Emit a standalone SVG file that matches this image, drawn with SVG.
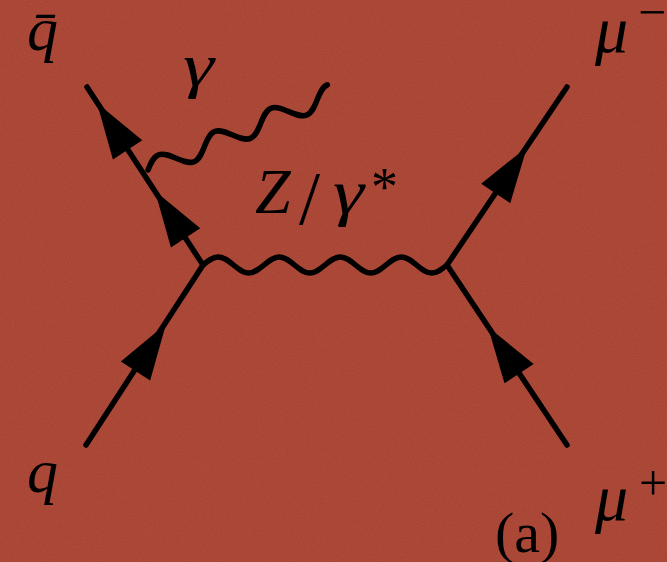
<svg xmlns="http://www.w3.org/2000/svg" xmlns:xlink="http://www.w3.org/1999/xlink" width="667" height="562" viewBox="0 0 667 562">
<style>
.fer{stroke:#000;stroke-width:5.5;stroke-linecap:round;fill:none}
.bos{stroke:#000;stroke-width:5.5;stroke-linecap:round;stroke-linejoin:round;fill:none}
.m{font-family:"Liberation Serif","Times New Roman",serif;font-style:italic;fill:#000}
.r{font-family:"Liberation Serif","Times New Roman",serif;font-style:normal;fill:#000}
</style>
<defs>
<path id="ah" d="M0,0 L-56,-17.5 L-56,17.5 Z" fill="#000"/>
<filter id="grain" x="0" y="0" width="100%" height="100%">
<feTurbulence type="fractalNoise" baseFrequency="0.9" numOctaves="2" seed="3" result="n"/>
<feColorMatrix in="n" type="matrix" values="0 0 0 0 1  0 0 0 0 0.8  0 0 0 0 0.75  0 0 0 0.1 0"/>
</filter>
</defs>
<rect width="667" height="562" fill="#a63f2e"/>
<rect width="667" height="562" filter="url(#grain)"/>

<g id="connectors">
<line class="fer" x1="86" y1="445" x2="203" y2="265"/>
<line class="fer" x1="203" y1="265" x2="87" y2="87"/>
<line class="fer" x1="447" y1="265" x2="567" y2="87"/>
<line class="fer" x1="567" y1="445" x2="447" y2="265"/>
<path class="bos" transform="translate(203,265)" d="M0,0 c5.1,-4.2 9.79,-8 15.25,-8 s10.15,3.8 15.25,8 s9.79,8 15.25,8 s10.15,-3.8 15.25,-8 s9.79,-8 15.25,-8 s10.15,3.8 15.25,8 s9.79,8 15.25,8 s10.15,-3.8 15.25,-8 s9.79,-8 15.25,-8 s10.15,3.8 15.25,8 s9.79,8 15.25,8 s10.15,-3.8 15.25,-8 s9.79,-8 15.25,-8 s10.15,3.8 15.25,8 s9.79,8 15.25,8 s10.15,-3.8 15.25,-8"/>
<path class="bos" transform="translate(148,170) rotate(-22.5)" d="M0,0 c5.1,-5.25 9.79,-10 15.25,-10 s10.15,4.75 15.25,10 s9.79,10 15.25,10 s10.15,-4.75 15.25,-10 s9.79,-10 15.25,-10 s10.15,4.75 15.25,10 s9.79,10 15.25,10 s10.15,-4.75 15.25,-10 s9.79,-10 15.25,-10 s10.15,4.75 15.25,10 s9.79,10 15.25,10 s10.15,-4.75 15.25,-10 s9.79,-10 15.25,-10"/>
<use xlink:href="#ah" href="#ah" transform="translate(166,324) rotate(-57)"/>
<use xlink:href="#ah" href="#ah" transform="translate(155,191) rotate(-123.1)"/>
<use xlink:href="#ah" href="#ah" transform="translate(97,103) rotate(-123.1)"/>
<use xlink:href="#ah" href="#ah" transform="translate(527,147) rotate(-56)"/>
<use xlink:href="#ah" href="#ah" transform="translate(488,327) rotate(-123.7)"/>
</g>

<g id="label-qbar"><text class="m" x="27" y="50" style="font-size:62px">q̄</text></g>
<g id="label-gamma"><text class="m" x="183" y="86" style="font-size:62px" textLength="31" lengthAdjust="spacingAndGlyphs">γ</text></g>
<g id="label-Zgamma">
<text class="m" x="255" y="213" style="font-size:64px">Z</text>
<text class="r" x="299" y="224" style="font-size:76px">/</text>
<text class="m" x="333" y="213" style="font-size:64px" textLength="31" lengthAdjust="spacingAndGlyphs">γ</text>
<text class="r" x="371" y="205" style="font-size:54px">*</text>
</g>
<g id="label-muminus">
<text class="m" x="595" y="52" style="font-size:66px">μ</text>
<text class="r" x="638" y="29" style="font-size:50px">−</text>
</g>
<g id="label-q"><text class="m" x="27" y="492" style="font-size:62px">q</text></g>
<g id="label-muplus">
<text class="m" x="595" y="520" style="font-size:66px">μ</text>
<text class="r" x="639" y="500" style="font-size:50px">+</text>
</g>
<g id="label-a"><text class="r" x="495" y="552" style="font-size:58px">(a)</text></g>
</svg>
